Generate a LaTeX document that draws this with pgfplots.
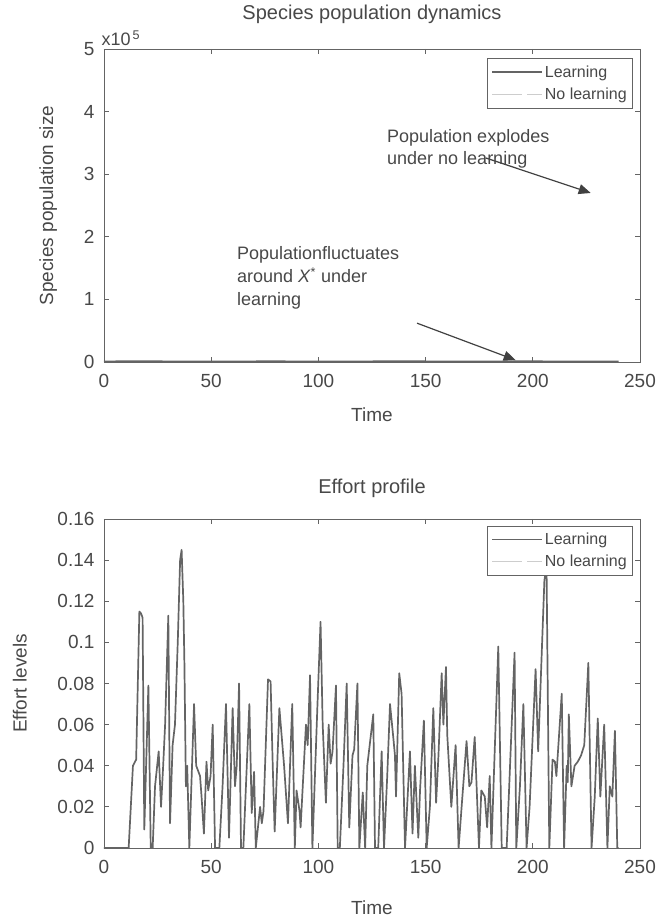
\documentclass[border=0pt]{standalone}
\usepackage{fontspec}
\setmainfont{Liberation Sans}
\usepackage{pgfplots}
\pgfplotsset{compat=1.18}
\usetikzlibrary{arrows.meta}

\definecolor{txt}{RGB}{72,72,72}
\definecolor{axc}{RGB}{100,100,100}
\definecolor{lrn}{RGB}{100,100,100}
\definecolor{nol}{RGB}{205,205,205}

% effort under learning (time, effort)
\pgfplotstableread{
t v
0 0
11.5 0
13.5 0.040
15 0.043
16.5 0.115
17.3 0.114
18 0.112
18.8 0.009
20.7 0.079
21.8 0
22.7 0
23.8 0.030
25.5 0.047
26.6 0.020
27.6 0.040
28.5 0.060
30 0.113
30.8 0.012
32 0.050
33.1 0.060
34.4 0.100
35.5 0.140
36.2 0.145
37 0.120
37.5 0.090
38.2 0.030
38.8 0.040
39.8 0
42 0.070
43 0.040
44.8 0.035
45.5 0.025
46.6 0.007
47.8 0.042
48.6 0.028
49.7 0.035
50.7 0.060
51.8 0
53.8 0
55.3 0.030
56.9 0.070
58.3 0.005
60 0.068
61.1 0.030
61.9 0.040
63 0.080
63.9 0
65 0
67.8 0.070
68.9 0.017
70 0.037
70.8 0
72.8 0.020
73.6 0.012
74.4 0.018
76.5 0.082
77.7 0.081
78.7 0.040
79.6 0.008
81.8 0.068
84 0.040
85.8 0.012
87.8 0.070
89 0
89.8 0.028
91.2 0.018
91.7 0.010
94.2 0.060
95 0.050
96.1 0.084
97.2 0
99.5 0.068
101 0.110
102 0.060
103.5 0.022
104.8 0.060
105.7 0.041
106.6 0.047
108.2 0.079
109 0
110 0
111.7 0.040
113.2 0.080
114.4 0.010
115.9 0.045
116.7 0.048
118.2 0.080
119.1 0
120.7 0.027
121.8 0
122.8 0.040
125.6 0.065
126.4 0
127.9 0
129.5 0.047
130.6 0
132.1 0.035
133.4 0.070
135 0.053
135.7 0.045
136.2 0.025
137.7 0.085
138.8 0.075
140.4 0
142.7 0.047
143.9 0.007
145 0.040
146.6 0.005
147.4 0.028
149.2 0.062
150.5 0
152 0.020
153.6 0.068
154.9 0.022
156 0.045
157.5 0.085
158.3 0.060
159.5 0.088
160.1 0.055
162 0.020
164 0.050
165.4 0
166.8 0.020
169.1 0.052
170.4 0.030
171.4 0.032
172.9 0.054
174.9 0
176 0.028
177.6 0.025
178.7 0.010
179.9 0.035
180.7 0
182 0.040
183.9 0.098
185.5 0
187.8 0
189 0.030
191.5 0.095
192.3 0
194 0.030
195.6 0.070
197.1 0
198.5 0.020
201.3 0.087
202.5 0.047
204 0.090
205.4 0.130
206.4 0.137
207.7 0
209.2 0.043
210.3 0.042
211 0.035
213.5 0.075
214.6 0
215.8 0.040
216.3 0.032
216.8 0.065
218 0.030
219.5 0.040
221 0.042
222.5 0.045
224 0.050
225.9 0.090
227.4 0
228.9 0.025
230.3 0.063
231.5 0.025
233.3 0.060
234.8 0
235.9 0.030
237.1 0.025
238.3 0.057
239.4 0
240 0
}\effort

% population under learning, close to the steady state X*
\pgfplotstableread{
t x
0 1000
20 1100
40 900
60 1000
80 1050
100 950
120 1000
140 1100
160 950
180 1000
200 1050
220 950
240 1000
}\poplearn

\pgfplotsset{
  panel/.style={
    scale only axis, width=536pt, anchor=south west,
    xmin=0, xmax=250, xtick={0,50,...,250},
    tick align=inside, major tick length=5pt,
    axis line style={axc, line width=0.8pt},
    every tick/.style={axc, line width=0.8pt},
    tick label style={font=\fontsize{19}{22}\selectfont, text=txt},
    label style={font=\fontsize{19}{22}\selectfont, text=txt},
    title style={font=\fontsize{20}{23}\selectfont, text=txt},
    /pgf/number format/assume math mode=true,
    xticklabel style={yshift=-9pt},
    yticklabel style={xshift=-6pt},
    legend style={at={(rel axis cs:0.987,0.97)}, anchor=north east,
      draw=axc, line width=0.6pt, fill=white,
      font=\fontsize{16}{19}\selectfont, text=txt,
      inner xsep=4pt, inner ysep=5pt, row sep=5pt},
    legend cell align=left,
    legend image code/.code={\draw[##1] (0pt,0pt) -- (50pt,0pt);},
    clip=false,
  },
}

\begin{document}
\begin{tikzpicture}[x=1pt,y=1pt]
\useasboundingbox (0,0) rectangle (661,923);

% population panel
\begin{axis}[panel, at={(104pt,561pt)}, height=313pt,
  ymin=0, ymax=500000, ytick={0,100000,...,500000},
  scaled y ticks=base 10:-5,
  ytick scale label code/.code={x10\textsuperscript{\,5}},
  every y tick scale label/.style={at={(rel axis cs:0,1)}, anchor=south west, xshift=0pt, yshift=0pt, font=\fontsize{18}{20}\selectfont, text=txt},
  title={Species population dynamics},
  title style={at={(axis description cs:0.5,1)}, anchor=center, yshift=29pt},
  xlabel={Time}, ylabel={Species population size},
  xlabel style={at={(axis description cs:0.5,0)}, anchor=center, yshift=-53pt},
  ylabel style={at={(axis description cs:-0.104,0.5)}, anchor=center},
]
\addplot[lrn, line width=1.7pt] table[x=t, y=x] {\poplearn};
\addlegendentry{Learning}
\addlegendimage{nol, line width=0.8pt, dash pattern=on 30pt off 5pt on 15pt}
\addlegendentry{No learning}
\draw[txt!90!black, line width=1.2pt, -{Triangle[length=12pt,width=10pt]}]
  (axis cs:178,326000) -- (axis cs:227,270000);
\node[anchor=north west, align=left, inner sep=0pt, text=txt,
  font=\fontsize{18}{22}\selectfont] at (axis cs:132,371000)
  {Population explodes\\under no learning};
\draw[txt!90!black, line width=1.2pt, -{Triangle[length=12pt,width=10pt]}]
  (axis cs:146,62000) -- (axis cs:192,3000);
\node[anchor=north west, align=left, inner sep=0pt, text=txt,
  font=\fontsize{18}{23}\selectfont] at (axis cs:62,185000)
  {Populationfluctuates\\around \textit{X}\textsuperscript{*} under\\learning};
\end{axis}

% effort panel
\begin{axis}[panel, at={(104pt,75pt)}, height=329pt,
  ymin=0, ymax=0.16, ytick={0,0.02,...,0.16},
  yticklabel style={/pgf/number format/fixed, /pgf/number format/precision=2},
  title={Effort profile},
  title style={at={(axis description cs:0.5,1)}, anchor=center, yshift=25pt},
  xlabel={Time}, ylabel={Effort levels},
  xlabel style={at={(axis description cs:0.5,0)}, anchor=center, yshift=-60pt},
  ylabel style={at={(axis description cs:-0.157,0.5)}, anchor=center},
  legend style={at={(rel axis cs:0.987,0.98)}},
]
\addplot[lrn, line width=1.7pt, line join=round] table[x=t, y=v] {\effort};
\addlegendentry{Learning}
\addlegendimage{nol, line width=0.8pt, dash pattern=on 30pt off 5pt on 15pt}
\addlegendentry{No learning}
\end{axis}
\end{tikzpicture}
\end{document}
